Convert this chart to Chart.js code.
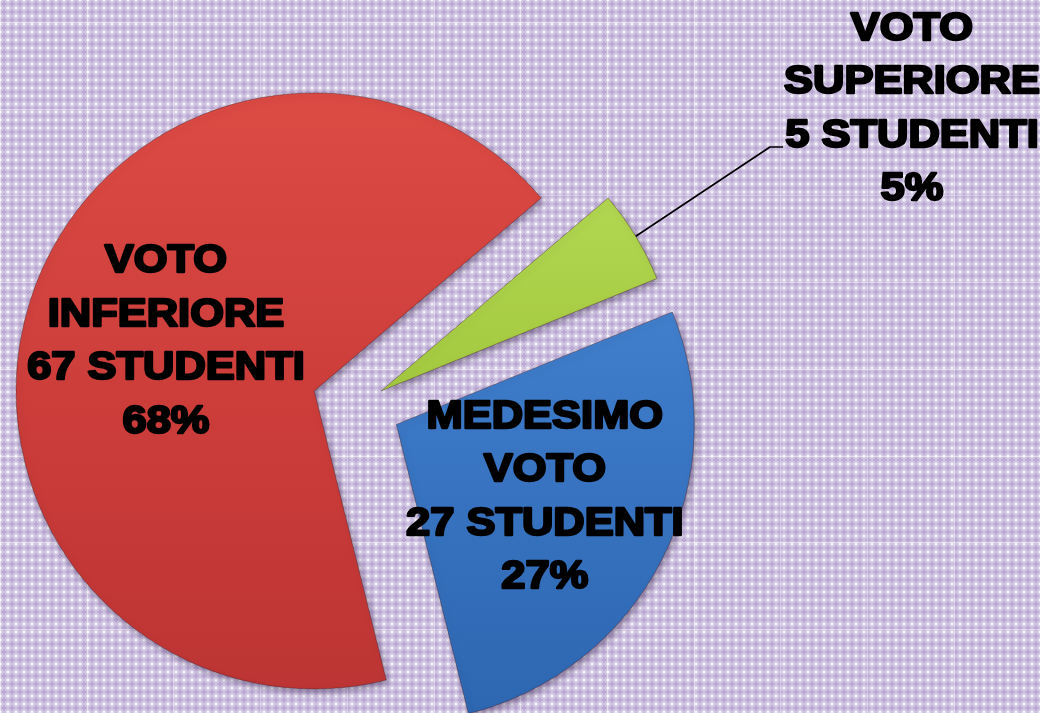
<!DOCTYPE html>
<html>
<head>
<meta charset="utf-8">
<script src="https://cdn.jsdelivr.net/npm/chart.js@4/dist/chart.umd.min.js"></script>
<style>
  html, body { margin: 0; padding: 0; background: #cbbcdd; }
  #wrap { width: 1040px; height: 713px; position: relative; }
</style>
</head>
<body>
<div id="wrap"><canvas id="c" width="1040" height="713"></canvas></div>
<script>
// ---- data ----
const categories = ['VOTO\nINFERIORE', 'VOTO\nSUPERIORE', 'MEDESIMO\nVOTO'];
const students = [67, 5, 27];
const percents = [68, 5, 27];

// ---- style ----
const baseColors = [
  ['#dc4a44', '#cc3d3a', '#bc3434'],
  ['#b8dc58', '#a2c83e', '#8db22e'],
  ['#4e8ed9', '#3b78c6', '#2e67b2']
];
const explode = [46, 27, 43];
const labelOutside = [false, true, false];
const labelRatio = 0.54;
const labelDx = 5;
const outsideLabel = { x: 912, y: 109, elbowX: 770, elbowY: 147, endX: 783 };
const lineGap = 53.5;
const fontPx = 39.5;

function tile() {
  const t = document.createElement('canvas');
  t.width = 8; t.height = 8;
  const g = t.getContext('2d');
  g.fillStyle = '#d0c5e1'; g.fillRect(0, 0, 8, 8);
  g.fillStyle = '#baa8d5';
  g.fillRect(3, 2, 2, 4);
  g.fillRect(2, 3, 4, 2);
  g.fillStyle = '#c4b5db';
  g.fillRect(3, 1, 2, 1); g.fillRect(3, 6, 2, 1); g.fillRect(1, 3, 1, 2); g.fillRect(6, 3, 1, 2);
  g.fillStyle = '#f2eef8';
  g.fillRect(0, 0, 1, 1); g.fillRect(7, 0, 1, 1); g.fillRect(0, 7, 1, 1); g.fillRect(7, 7, 1, 1);
  g.fillStyle = '#e4ddef';
  g.fillRect(0, 1, 1, 1); g.fillRect(1, 0, 1, 1); g.fillRect(6, 0, 1, 1); g.fillRect(7, 1, 1, 1);
  g.fillRect(0, 6, 1, 1); g.fillRect(1, 7, 1, 1); g.fillRect(6, 7, 1, 1); g.fillRect(7, 6, 1, 1);
  return t;
}

const bgPlugin = {
  id: 'bg',
  beforeDraw(chart) {
    const ctx = chart.ctx;
    ctx.save();
    ctx.fillStyle = ctx.createPattern(tile(), 'repeat');
    ctx.fillRect(0, 0, chart.width, chart.height);
    ctx.strokeStyle = 'rgba(255,255,255,0.4)';
    ctx.lineWidth = 1;
    for (let x = 0; x < chart.width; x += 86.7) {
      ctx.beginPath(); ctx.moveTo(Math.round(x) + 0.5, 0); ctx.lineTo(Math.round(x) + 0.5, chart.height); ctx.stroke();
    }
    for (let y = 22; y < chart.height; y += 86.7) {
      ctx.beginPath(); ctx.moveTo(0, Math.round(y) + 0.5); ctx.lineTo(chart.width, Math.round(y) + 0.5); ctx.stroke();
    }
    ctx.restore();
  }
};

const explodePlugin = {
  id: 'explode',
  afterDatasetsUpdate(chart) {
    const meta = chart.getDatasetMeta(0);
    meta.data.forEach((el, i) => {
      const mid = (el.startAngle + el.endAngle) / 2;
      el.x += Math.cos(mid) * explode[i];
      el.y += Math.sin(mid) * explode[i];
    });
  },
  beforeDatasetsDraw(chart) {
    const ctx = chart.ctx;
    ctx.save();
    ctx.shadowColor = 'rgba(40,20,60,0.45)';
    ctx.shadowBlur = 7;
    ctx.shadowOffsetX = 2;
    ctx.shadowOffsetY = 3;
  },
  afterDatasetsDraw(chart) {
    chart.ctx.restore();
  }
};

function drawBlock(ctx, lines, cx, cy) {
  const n = lines.length;
  lines.forEach((s, k) => {
    const y = cy + (k - (n - 1) / 2) * lineGap;
    ctx.save();
    ctx.translate(cx, y);
    ctx.scale(1.1, 1);
    ctx.strokeText(s, 0, 0);
    ctx.fillText(s, 0, 0);
    ctx.restore();
  });
}

const labelPlugin = {
  id: 'labels',
  afterDraw(chart) {
    const ctx = chart.ctx;
    const meta = chart.getDatasetMeta(0);
    ctx.save();
    ctx.font = 'bold ' + fontPx + 'px "Liberation Sans", Arial, sans-serif';
    ctx.textAlign = 'center';
    ctx.textBaseline = 'middle';
    ctx.fillStyle = '#000';
    ctx.strokeStyle = '#000';
    ctx.lineWidth = 2.4;
    ctx.lineJoin = 'round';
    meta.data.forEach((el, i) => {
      const lines = categories[i].split('\n').concat([students[i] + ' STUDENTI', percents[i] + '%']);
      const mid = (el.startAngle + el.endAngle) / 2;
      if (!labelOutside[i]) {
        const d = el.outerRadius * labelRatio;
        drawBlock(ctx, lines, el.x + Math.cos(mid) * d + labelDx, el.y + Math.sin(mid) * d);
      } else {
        const sx = el.x + Math.cos(mid) * el.outerRadius;
        const sy = el.y + Math.sin(mid) * el.outerRadius;
        ctx.save();
        ctx.lineWidth = 1.6;
        ctx.beginPath();
        ctx.moveTo(sx, sy);
        ctx.lineTo(outsideLabel.elbowX, outsideLabel.elbowY);
        ctx.lineTo(outsideLabel.endX, outsideLabel.elbowY);
        ctx.stroke();
        ctx.restore();
        drawBlock(ctx, lines, outsideLabel.x, outsideLabel.y);
      }
    });
    ctx.restore();
  }
};

function sliceFill(context) {
  const chart = context.chart;
  const ca = chart.chartArea;
  const i = context.dataIndex;
  const cols = baseColors[i];
  if (!ca) return cols[1];
  const ctx = chart.ctx;
  const cx = (ca.left + ca.right) / 2, cy = (ca.top + ca.bottom) / 2;
  const r = 298;
  const g = ctx.createLinearGradient(cx, cy - r, cx, cy + r);
  g.addColorStop(0, cols[0]);
  g.addColorStop(0.5, cols[1]);
  g.addColorStop(1, cols[2]);
  return g;
}

new Chart(document.getElementById('c'), {
  type: 'pie',
  data: {
    labels: categories.map(s => s.replace('\n', ' ')),
    datasets: [{
      data: students,
      backgroundColor: sliceFill,
      borderColor: 'rgba(60,20,20,0.35)',
      borderWidth: 1,
      radius: 298
    }]
  },
  options: {
    responsive: false,
    animation: false,
    rotation: 166,
    layout: { padding: { left: 0, right: 324, top: 97, bottom: 0 } },
    plugins: {
      legend: { display: false },
      tooltip: { enabled: false },
      title: { display: false }
    },
    events: []
  },
  plugins: [bgPlugin, explodePlugin, labelPlugin]
});
</script>
</body>
</html>
